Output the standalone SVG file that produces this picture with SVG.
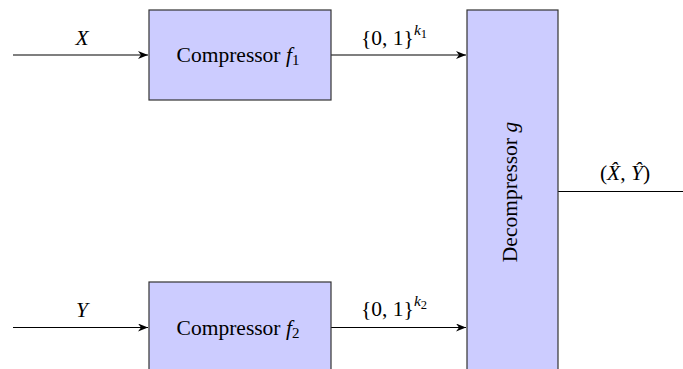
<svg xmlns="http://www.w3.org/2000/svg" width="683" height="369" viewBox="0 0 683 369">
<style>
.box{fill:#ccccff;stroke:#333;stroke-width:1.2}
.t{font-family:"Liberation Serif","Times New Roman","DejaVu Serif",serif;font-size:21.5px;fill:#000}
.i{font-style:italic}
.ln{stroke:#000;stroke-width:1.1;fill:none}
</style>
<defs>
<marker id="ah" viewBox="0 0 10 8" refX="10" refY="4" markerWidth="10" markerHeight="8" markerUnits="userSpaceOnUse" orient="auto">
<path d="M0,0 L10,4 L0,8 L3,4 Z" fill="#000"/>
</marker>
</defs>
<rect width="683" height="369" fill="#fff"/>
<g id="connectors">
<line class="ln" x1="13" y1="55" x2="148" y2="55" marker-end="url(#ah)"/>
<line class="ln" x1="13" y1="327.5" x2="148" y2="327.5" marker-end="url(#ah)"/>
<line class="ln" x1="331" y1="55" x2="466" y2="55" marker-end="url(#ah)"/>
<line class="ln" x1="331" y1="327.5" x2="466" y2="327.5" marker-end="url(#ah)"/>
<line class="ln" x1="558" y1="191.5" x2="683" y2="191.5"/>
<text class="t i" x="82" y="45" text-anchor="middle">X</text>
<text class="t i" x="82" y="317" text-anchor="middle">Y</text>
<text class="t" x="361" y="45">{0, 1}<tspan class="i" font-size="15.5" dy="-10">k</tspan><tspan font-size="12.5" dy="3">1</tspan></text>
<text class="t" x="361" y="316">{0, 1}<tspan class="i" font-size="15.5" dy="-10">k</tspan><tspan font-size="12.5" dy="3">2</tspan></text>
<text class="t" x="625" y="180" text-anchor="middle">(<tspan class="i">X̂</tspan>, <tspan class="i">Ŷ</tspan>)</text>
</g>
<g id="comp1">
<rect class="box" x="149" y="10" width="182" height="90"/>
<text class="t" x="238" y="62" text-anchor="middle">Compressor <tspan class="i">f</tspan><tspan font-size="15" dy="3">1</tspan></text>
</g>
<g id="comp2">
<rect class="box" x="149" y="282" width="182" height="100"/>
<text class="t" x="238" y="335" text-anchor="middle">Compressor <tspan class="i">f</tspan><tspan font-size="15" dy="3">2</tspan></text>
</g>
<g id="decomp">
<rect class="box" x="467" y="10" width="91" height="372"/>
<text class="t" transform="translate(517,192) rotate(-90)" text-anchor="middle">Decompressor <tspan class="i">g</tspan></text>
</g>
</svg>
